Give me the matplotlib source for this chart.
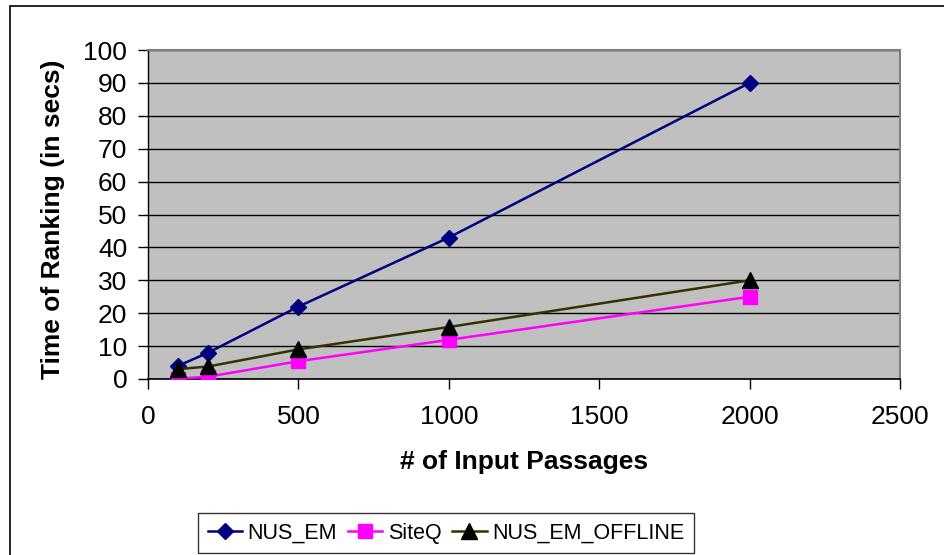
import matplotlib
matplotlib.use("Agg")
import matplotlib.pyplot as plt
from matplotlib.patches import Rectangle

passages = [100, 200, 500, 1000, 2000]
nus_em = [4, 8, 22, 43, 90]
siteq = [0.1, 0.7, 5.4, 11.9, 25]
nus_em_offline = [3, 3.8, 9, 15.8, 30]
x_ticks = [0, 500, 1000, 1500, 2000, 2500]
y_ticks = list(range(0, 101, 10))

plt.rcParams['font.family'] = ['Liberation Sans', 'DejaVu Sans']

fig = plt.figure(figsize=(9.44, 5.55), dpi=100)
W, H = 944, 555
# outer chart border
fig.patches.append(Rectangle((10 / W, -0.1), 1.2, (555 - 6) / H + 0.1, transform=fig.transFigure,
                             fill=False, edgecolor='black', linewidth=1.2))

ax = fig.add_axes([148 / W, 1 - 379 / H, (900 - 148) / W, (379 - 50) / H])
ax.set_facecolor('#C0C0C0')
ax.plot(passages, nus_em, color='#000080', marker='D', markersize=8.5, linewidth=1.8, label='NUS_EM', zorder=3)
ax.plot(passages, siteq, color='#FF00FF', marker='s', markersize=10, linewidth=1.8, label='SiteQ', zorder=3)
ax.plot(passages, nus_em_offline, color='#333300', marker='^', markersize=11, markerfacecolor='black',
        markeredgecolor='black', linewidth=1.8, label='NUS_EM_OFFLINE', zorder=3)

ax.set_xlim(0, 2500)
ax.set_ylim(0, 100)
ax.set_xticks(x_ticks)
ax.set_yticks(y_ticks)
ax.yaxis.grid(True, color='black', linewidth=1.0)
ax.set_axisbelow(True)
for s in ['top', 'right']:
    ax.spines[s].set_color('#808080')
    ax.spines[s].set_linewidth(1.5)
ax.spines['left'].set_color('black')
ax.spines['bottom'].set_color('black')
ax.spines['left'].set_linewidth(1.0)
ax.spines['bottom'].set_linewidth(1.2)
ax.tick_params(axis='both', direction='out', length=7, width=1, labelsize=19, colors='black')
ax.tick_params(axis='x', pad=12)
ax.tick_params(axis='y', pad=8)

ax.set_xlabel('# of Input Passages', fontsize=19, fontweight='bold', va='center')
ax.xaxis.set_label_coords(0.5, (379 - 462) / 329)
ax.set_ylabel('Time of Ranking (in secs)', fontsize=19, fontweight='bold', va='center')
ax.yaxis.set_label_coords((53 - 148) / 752, 0.485)

leg = fig.legend(loc='center', bbox_to_anchor=(446 / W, 1 - 533 / H), ncol=3,
                 prop={'size': 15.5},
                 frameon=True, fancybox=False, edgecolor='black', handlelength=1.6,
                 columnspacing=0.5, handletextpad=0.25, borderpad=0.45)
leg.get_frame().set_linewidth(1.0)

fig.savefig('out.png', dpi=100)
